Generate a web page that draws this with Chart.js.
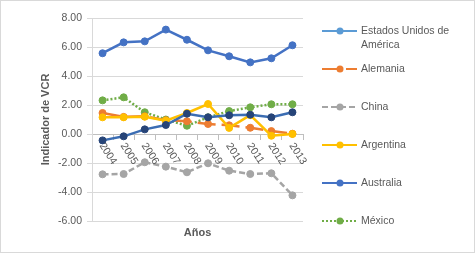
<!DOCTYPE html>
<html lang="es">
<head>
<meta charset="UTF-8">
<title>Indicador de VCR</title>
<script src="https://cdn.jsdelivr.net/npm/chart.js"></script>
<style>
  html, body { margin: 0; padding: 0; background: #fff; }
  #wrap { width: 475px; height: 253px; }
</style>
</head>
<body>
<div id="wrap"><canvas id="chart" width="475" height="253"></canvas></div>
<script>
  const years = ['2004', '2005', '2006', '2007', '2008', '2009', '2010', '2011', '2012', '2013'];
  const yTicks = [-6, -4, -2, 0, 2, 4, 6, 8];

  const estadosUnidos = [-0.44, -0.16, 0.32, 0.62, 1.40, 1.15, 1.29, 1.33, 1.15, 1.50];
  const alemania = [1.45, 1.18, 1.22, 0.95, 0.88, 0.69, 0.60, 0.43, 0.20, 0.02];
  const china = [-2.78, -2.76, -1.95, -2.25, -2.64, -2.02, -2.53, -2.76, -2.71, -4.23];
  const argentina = [1.15, 1.15, 1.19, 0.92, 1.45, 2.07, 0.42, 1.30, -0.12, 0.00];
  const australia = [5.57, 6.32, 6.39, 7.20, 6.50, 5.77, 5.36, 4.94, 5.22, 6.12];
  const mexico = [2.32, 2.53, 1.50, 1.00, 0.57, 1.15, 1.58, 1.84, 2.05, 2.05];

  const txt = '#595959';
  const font = '"Liberation Sans", Arial, sans-serif';

  function serie(label, data, color, dash, order, extra) {
    return Object.assign({
      label, data,
      borderColor: color,
      backgroundColor: color,
      pointBackgroundColor: color,
      pointBorderColor: color,
      borderDash: dash,
      borderWidth: 2.5,
      pointRadius: 3.5,
      pointBorderWidth: 1,
      tension: 0,
      fill: false,
      order
    }, extra || {});
  }

  // ejes, titulos, leyenda y marco
  const decor = {
    id: 'decor',
    beforeDraw(chart) {
      const ctx = chart.ctx;
      ctx.save();
      ctx.fillStyle = '#fff';
      ctx.fillRect(0, 0, chart.width, chart.height);
      ctx.strokeStyle = '#D9D9D9';
      ctx.lineWidth = 1;
      ctx.strokeRect(0.5, 0.5, chart.width - 1, chart.height - 1);
      ctx.restore();
    },
    afterDraw(chart) {
      const ctx = chart.ctx, xs = chart.scales.x, ys = chart.scales.y, area = chart.chartArea;
      ctx.save();
      ctx.fillStyle = txt;
      ctx.font = '10.5px ' + font;
      ctx.textAlign = 'left';
      ctx.textBaseline = 'middle';
      const y0 = ys.getPixelForValue(0);
      years.forEach((lab, i) => {
        ctx.save();
        ctx.translate(xs.getPixelForValue(i) - 1, y0 + 10);
        ctx.rotate(57 * Math.PI / 180);
        ctx.fillText(lab, 0, 0);
        ctx.restore();
      });

      ctx.font = 'bold 11px ' + font;
      ctx.textAlign = 'center';
      ctx.fillText('Años', (area.left + area.right) / 2, 233);
      ctx.save();
      ctx.translate(46, (area.top + area.bottom) / 2);
      ctx.rotate(-Math.PI / 2);
      ctx.fillText('Indicador de VCR', 0, 0);
      ctx.restore();

      // leyenda
      ctx.font = '10.5px ' + font;
      ctx.textAlign = 'left';
      chart.data.datasets.forEach((ds, i) => {
        const cy = 31 + i * 38;
        const c = ds.legendColor || ds.borderColor;
        ctx.strokeStyle = c;
        ctx.lineWidth = 2;
        ctx.setLineDash(ds.borderDash || []);
        ctx.beginPath();
        ctx.moveTo(322, cy);
        ctx.lineTo(357, cy);
        ctx.stroke();
        ctx.setLineDash([]);
        ctx.fillStyle = c;
        ctx.beginPath();
        ctx.arc(340, cy, 3.5, 0, Math.PI * 2);
        ctx.fill();

        ctx.fillStyle = txt;
        const words = ds.label.split(' ');
        const lines = [];
        let cur = '';
        words.forEach(w => {
          const t = cur ? cur + ' ' + w : w;
          if (cur && ctx.measureText(t).width > 100) { lines.push(cur); cur = w; }
          else cur = t;
        });
        lines.push(cur);
        lines.forEach((l, k) => ctx.fillText(l, 361, cy + k * 14));
      });
      ctx.restore();
    }
  };

  new Chart(document.getElementById('chart'), {
    type: 'line',
    data: {
      labels: years,
      datasets: [
        serie('Estados Unidos de América', estadosUnidos, '#3B6DB3', [], 0,
          { pointBackgroundColor: '#264478', pointBorderColor: '#264478', legendColor: '#5B9BD5' }),
        serie('Alemania', alemania, '#ED7D31', [18, 6], 2),
        serie('China', china, '#A5A5A5', [6, 3], 5),
        serie('Argentina', argentina, '#FFC000', [], 1),
        serie('Australia', australia, '#4472C4', [], 4),
        serie('México', mexico, '#70AD47', [2, 2], 3)
      ]
    },
    options: {
      responsive: false,
      animation: false,
      layout: { padding: { left: 10, top: 18, right: 172, bottom: 32 } },
      plugins: { legend: { display: false }, tooltip: { enabled: false } },
      scales: {
        x: {
          type: 'category',
          offset: true,
          position: { y: 0 },
          grid: { offset: true, drawOnChartArea: false, drawTicks: true, tickLength: 5, color: '#BFBFBF' },
          border: { display: true, color: '#BFBFBF' },
          ticks: { display: false }
        },
        y: {
          min: -6,
          max: 8,
          afterBuildTicks: s => { s.ticks = yTicks.map(v => ({ value: v })); },
          afterFit: s => { s.width = 82; },
          grid: { color: '#D9D9D9', tickLength: 5 },
          border: { display: true, color: '#D9D9D9' },
          ticks: { color: txt, padding: 5, font: { family: font, size: 10.5 }, callback: v => v.toFixed(2) }
        }
      }
    },
    plugins: [decor]
  });
</script>
</body>
</html>
